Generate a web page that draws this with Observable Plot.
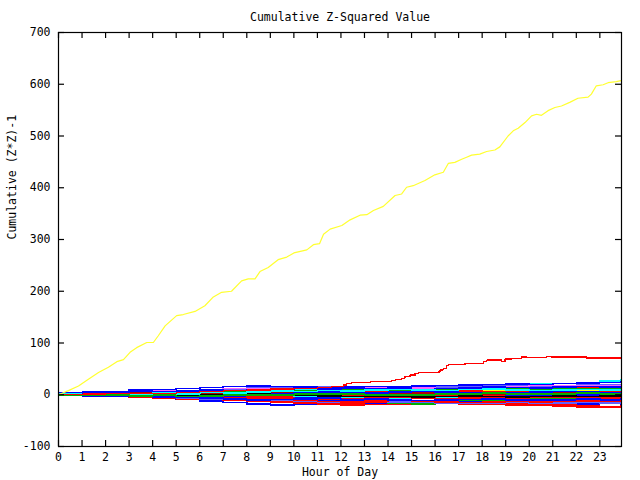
<!DOCTYPE html>
<html>
<head>
<meta charset="utf-8">
<script src="https://cdn.jsdelivr.net/npm/d3@7"></script>
<script src="https://cdn.jsdelivr.net/npm/@observablehq/plot@0.6"></script>
<style>
  html, body { margin: 0; padding: 0; background: white; }
</style>
</head>
<body>
<div id="chart"></div>
<script>
const titleText = "Cumulative Z-Squared Value";
const xLabel = "Hour of Day";
const yLabel = "Cumulative (Z*Z)-1";
const xTicks = d3.range(0, 24);
const yTicks = [-100, 0, 100, 200, 300, 400, 500, 600, 700];

// Yellow outlier series (hour, value)
const yellowHour = [0, 0.42, 0.85, 1.27, 1.70, 2.12, 2.48, 2.76, 3.04, 3.32, 3.75, 4.03, 4.24, 4.53, 5.02, 5.30, 5.80, 6.22, 6.58, 6.93, 7.35, 7.78, 8.06, 8.35, 8.56, 8.91, 9.33, 9.70, 10.0, 10.55, 10.83, 11.09, 11.26, 11.54, 12.04, 12.39, 12.81, 13.10, 13.38, 13.80, 14.30, 14.58, 14.79, 15.07, 15.57, 15.99, 16.35, 16.56, 16.84, 17.13, 17.34, 17.55, 17.90, 18.19, 18.54, 18.75, 19.10, 19.32, 19.53, 19.82, 20.10, 20.31, 20.52, 20.80, 21.09, 21.37, 21.72, 22.07, 22.50, 22.64, 22.85, 23.14, 23.35, 23.70, 23.90];
const yellowValue = [0, 8, 17, 30, 43, 53, 64, 68, 82, 91, 101, 101, 114, 133, 153, 155, 161, 172, 189, 198, 200, 220, 224, 224, 238, 246, 261, 266, 274, 280, 290, 292, 310, 320, 327, 338, 347, 348, 356, 364, 385, 388, 401, 404, 414, 425, 430, 447, 449, 455, 459, 463, 465, 470, 473, 479, 500, 510, 515, 526, 539, 542, 540, 549, 555, 558, 565, 573, 575, 581, 597, 599, 603, 605, 607];

// Red outlier series (hour, value)
const redHour = [0, 1, 2, 3, 4, 5, 6, 7, 8, 9, 10, 11, 11.6, 12.10, 12.25, 12.46, 13.17, 13.24, 14.09, 14.16, 14.30, 14.58, 14.72, 14.93, 15.15, 15.29, 16.14, 16.21, 16.35, 16.49, 16.56, 17.13, 17.27, 17.90, 18.04, 18.19, 18.68, 18.82, 18.97, 19.25, 19.46, 19.67, 19.88, 20.66, 20.73, 20.94, 22.43, 23.90];
const redValue = [0, 1, 2, 3, 3, 5, 6, 8, 9, 11, 12, 14, 16, 19, 21, 23, 23, 25, 25, 27, 29, 32, 35, 38, 41, 43, 44, 48, 51, 57, 58, 58, 60, 61, 64, 67, 67, 64, 69, 70, 70, 73, 72, 72, 74, 73, 71, 70];

// Bundle of other series, sampled each hour (0..23, 23.9)
const bundleHours = [0, 1, 2, 3, 4, 5, 6, 7, 8, 9, 10, 11, 12, 13, 14, 15, 16, 17, 18, 19, 20, 21, 22, 23, 23.9];
const bundleColors = ["#00ffff", "#0000ff", "#6060ff", "#ff60ff", "#0000ff", "#ff0000", "#00b000", "#000000", "#00ffff", "#ffff00", "#ff0000", "#0000ff", "#ff60ff", "#b00000", "#00b000", "#6060ff", "#ff0000", "#0000ff", "#000000", "#ff00ff", "#00ffff", "#ff0000", "#00b000", "#0000ff", "#ff60ff", "#0000ff", "#ff0000", "#00b000", "#6060ff", "#0000ff", "#ff0000", "#ff0000"];
const s1 = [0, 1, 3, 4, 3, 5, 6, 8, 9, 8, 10, 11, 12, 13, 12, 14, 15, 17, 18, 20, 22, 22, 24, 27, 30];
const s2 = [2, 4, 6, 9, 10, 12, 14, 16, 17, 16, 15, 14, 15, 16, 15, 17, 18, 19, 20, 21, 20, 22, 23, 24, 25];
const s3 = [1, 3, 2, 4, 6, 7, 8, 11, 14, 13, 15, 16, 14, 13, 12, 14, 15, 16, 17, 18, 17, 18, 19, 20, 20];
const s4 = [0, 2, 4, 5, 7, 8, 10, 12, 11, 12, 13, 12, 14, 15, 14, 13, 12, 14, 15, 16, 18, 17, 18, 18, 18];
const s5 = [3, 5, 4, 6, 5, 7, 9, 8, 10, 11, 12, 11, 13, 12, 11, 10, 12, 13, 15, 14, 13, 15, 16, 15, 15];
const s6 = [1, 0, 2, 3, 5, 4, 6, 5, 7, 6, 8, 9, 10, 12, 11, 13, 12, 11, 12, 13, 14, 12, 13, 14, 13];
const s7 = [0, 1, 0, 2, 1, 3, 4, 6, 5, 7, 8, 7, 9, 10, 9, 8, 10, 11, 12, 11, 10, 12, 11, 12, 12];
const s8 = [0, 2, 3, 4, 5, 6, 5, 7, 8, 6, 7, 8, 9, 8, 7, 8, 9, 10, 11, 10, 9, 10, 11, 10, 10];
const s9 = [1, -1, 0, 1, 3, 2, 4, 3, 5, 7, 6, 8, 7, 9, 10, 9, 8, 10, 11, 9, 8, 9, 10, 9, 9];
const s10 = [0, 1, 2, 1, 3, 4, 3, 5, 6, 5, 7, 10, 12, 13, 14, 12, 11, 10, 9, 8, 9, 10, 9, 8, 8];
const s11 = [2, 3, 4, 3, 2, 1, 2, 4, 5, 6, 8, 7, 6, 5, 4, 5, 6, 7, 6, 5, 6, 7, 6, 5, 6];
const s12 = [0, -1, -2, -1, 0, 1, 0, 2, 3, 2, 4, 5, 4, 3, 5, 6, 5, 4, 3, 4, 5, 6, 5, 4, 5];
const s13 = [1, 0, 2, 4, 3, 2, 4, 6, 5, 4, 3, 5, 6, 7, 5, 4, 3, 2, 3, 4, 5, 4, 3, 4, 4];
const s14 = [0, 1, 2, 3, 4, 3, 2, 3, 4, 5, 4, 3, 2, 1, 2, 3, 4, 3, 2, 3, 4, 3, 2, 3, 3];
const s15 = [0, -1, 0, -2, -1, -3, -2, -1, 0, -1, 1, 2, 1, 0, -1, 0, 1, 2, 3, 2, 1, 2, 3, 2, 2];
const s16 = [1, 2, 1, 0, -1, -2, -3, -2, -1, 0, 1, 0, -1, -2, -1, 0, 1, 2, 1, 0, 1, 2, 1, 0, 1];
const s17 = [0, -1, -2, -3, -2, -1, -2, -3, -4, -3, -2, -3, -2, -1, 0, -1, -2, -1, 0, 1, 0, -1, 0, 1, 0];
const s18 = [0, 1, 0, -1, -2, -3, -4, -3, -5, -6, -5, -4, -3, -4, -5, -4, -3, -2, -3, -2, -1, -2, -1, -2, -1];
const s19 = [1, 0, -1, 0, -1, -2, -1, 0, 1, 0, -1, -2, -3, -2, -3, -4, -3, -2, -3, -4, -3, -2, -3, -2, -2];
const s20 = [0, -1, -2, -1, -3, -4, -5, -4, -6, -5, -7, -6, -5, -4, -5, -6, -5, -4, -3, -4, -5, -4, -3, -4, -3];
const s21 = [0, -2, -1, -3, -2, -4, -3, -2, -4, -5, -4, -3, -5, -6, -7, -6, -5, -6, -5, -4, -5, -4, -3, -4, -4];
const s22 = [2, 1, 0, -1, -2, -3, -4, -5, -4, -6, -7, -8, -7, -6, -5, -6, -7, -6, -5, -6, -5, -4, -5, -6, -5];
const s23 = [0, -1, -2, -3, -4, -5, -6, -5, -7, -8, -9, -10, -9, -11, -12, -13, -12, -11, -10, -9, -8, -7, -6, -7, -6];
const s24 = [0, -2, -3, -2, -4, -5, -6, -8, -10, -9, -8, -7, -9, -8, -10, -11, -10, -9, -8, -9, -10, -9, -8, -9, -8];
const s25 = [1, 0, -1, -2, -1, -3, -4, -6, -5, -7, -8, -9, -8, -10, -11, -12, -11, -10, -9, -10, -11, -10, -9, -10, -9];
const s26 = [0, -1, -3, -4, -5, -4, -6, -7, -9, -8, -10, -11, -12, -11, -13, -14, -15, -14, -13, -12, -11, -12, -11, -10, -10];
const s27 = [0, -1, -2, -4, -3, -5, -6, -7, -8, -9, -11, -13, -14, -12, -11, -13, -14, -15, -14, -13, -14, -13, -12, -13, -12];
const s28 = [0, -2, -3, -2, -4, -6, -7, -8, -10, -12, -11, -13, -14, -15, -16, -18, -17, -16, -18, -17, -16, -15, -14, -15, -14];
const s29 = [0, -1, -2, -3, -5, -6, -8, -9, -10, -11, -12, -14, -13, -12, -14, -15, -16, -17, -16, -15, -17, -16, -15, -16, -16];
const s30 = [1, 0, -2, -4, -6, -9, -12, -15, -18, -20, -19, -18, -17, -16, -18, -19, -17, -18, -19, -18, -17, -19, -18, -17, -18];
const s31 = [0, -1, -3, -4, -5, -7, -8, -10, -11, -13, -15, -17, -16, -15, -14, -15, -16, -17, -18, -17, -19, -20, -22, -23, -21];
const s32 = [0, -2, -3, -5, -6, -8, -9, -11, -13, -15, -17, -18, -20, -19, -18, -17, -16, -18, -19, -20, -21, -23, -25, -24, -22];

const bundle = [s1, s2, s3, s4, s5, s6, s7, s8, s9, s10, s11, s12, s13, s14, s15, s16, s17, s18, s19, s20, s21, s22, s23, s24, s25, s26, s27, s28, s29, s30, s31, s32];
// draw in an interleaved order so colours mix like the reference
const drawOrder = [29, 0, 15, 31, 2, 27, 5, 24, 9, 19, 12, 22, 7, 16, 30, 3, 25, 10, 20, 1, 13, 28, 6, 17, 21, 11, 26, 4, 18, 8, 23, 14];

const bundleRows = drawOrder.flatMap(i => bundle[i].map((v, j) => ({series: i, hour: bundleHours[j], value: v, color: bundleColors[i]})));
const yellowRows = yellowHour.map((h, j) => ({hour: h, value: yellowValue[j]}));
const redRows = redHour.map((h, j) => ({hour: h, value: redValue[j]}));

const W = 640, H = 480;
const mL = 58, mR = 19, mT = 32, mB = 34;
const innerW = W - mL - mR, innerH = H - mT - mB;
const tickLen = 6;

const chart = Plot.plot({
  width: W,
  height: H,
  marginLeft: mL,
  marginRight: mR,
  marginTop: mT,
  marginBottom: mB,
  style: {fontFamily: "DejaVu Sans Mono", fontSize: "11.5px", background: "white", color: "black"},
  x: {domain: [0, 23.92], label: null},
  y: {domain: [-100, 700], label: null},
  marks: [
    Plot.line(bundleRows, {x: "hour", y: "value", z: "series", stroke: "color", strokeWidth: 1.6, curve: "step-after", shapeRendering: "crispEdges"}),
    Plot.line(redRows, {x: "hour", y: "value", stroke: "#ff0000", strokeWidth: 1.2, curve: "step-after", shapeRendering: "crispEdges"}),
    Plot.line(yellowRows, {x: "hour", y: "value", stroke: "#ffff30", strokeWidth: 1.2}),
    Plot.frame({stroke: "black", strokeWidth: 1.2}),
    Plot.ruleX(xTicks, {x: d => d, insetTop: innerH - tickLen, stroke: "black", strokeWidth: 1.2}),
    Plot.ruleX(xTicks, {x: d => d, insetBottom: innerH - tickLen, stroke: "black", strokeWidth: 1.2}),
    Plot.ruleY(yTicks, {y: d => d, insetRight: innerW - tickLen, stroke: "black", strokeWidth: 1.2}),
    Plot.ruleY(yTicks, {y: d => d, insetLeft: innerW - tickLen, stroke: "black", strokeWidth: 1.2}),
    Plot.axisX({ticks: xTicks, tickSize: 0, tickPadding: 6, tickFormat: d => String(d), label: null}),
    Plot.axisY({ticks: yTicks, tickSize: 0, tickPadding: 8, tickFormat: d => String(d), label: null}),
    Plot.text([titleText], {text: d => d, frameAnchor: "top", dy: -20, fill: "black"}),
    Plot.text([xLabel], {text: d => d, frameAnchor: "bottom", dy: 29, fill: "black"}),
    Plot.text([yLabel], {text: d => d, frameAnchor: "left", dx: -46, rotate: -90, fill: "black"})
  ]
});
document.getElementById("chart").appendChild(chart);
</script>
</body>
</html>
